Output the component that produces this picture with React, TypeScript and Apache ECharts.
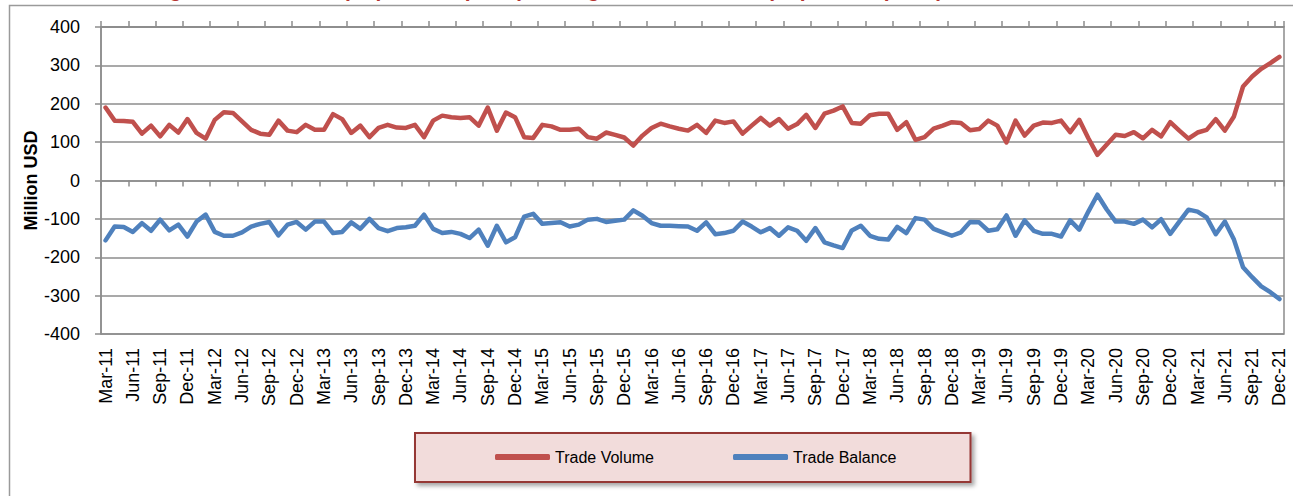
import React, { useEffect, useRef } from "react";
import * as echarts from "echarts";

const MONTHS = ["Jan", "Feb", "Mar", "Apr", "May", "Jun", "Jul", "Aug", "Sep", "Oct", "Nov", "Dec"];
const START_YEAR = 2011;
const START_MONTH = 2; // March
const MONTH_COUNT = 130;

const categories: string[] = [];
for (let k = 0; k < MONTH_COUNT; k++) {
  const m = (START_MONTH + k) % 12;
  const y = START_YEAR + Math.floor((START_MONTH + k) / 12);
  categories.push(`${MONTHS[m]}-${String(y % 100).padStart(2, "0")}`);
}

const tradeVolume = [
  190, 156, 155, 153, 122, 143, 115, 145, 125, 160,
  124, 109, 158, 178, 176, 154, 132, 122, 119, 156,
  130, 126, 145, 132, 132, 173, 160, 124, 143, 113,
  137, 145, 138, 137, 145, 113, 156, 169, 165, 163,
  165, 143, 190, 130, 177, 165, 113, 111, 145, 141,
  132, 132, 135, 113, 109, 125, 119, 112, 91, 117,
  137, 148, 141, 135, 130, 145, 124, 156, 150, 154,
  122, 143, 163, 143, 160, 135, 147, 171, 137, 174,
  182, 193, 150, 148, 170, 174, 174, 132, 152, 106,
  113, 135, 143, 152, 150, 131, 134, 156, 143, 99,
  156, 117, 143, 151, 150, 156, 126, 158, 110, 67,
  93, 119, 116, 126, 110, 132, 115, 152, 130, 109,
  125, 132, 160, 130, 167, 245, 271, 291, 306, 322,
];

const tradeBalance = [
  -156, -120, -121, -134, -111, -131, -102, -130, -115, -146,
  -107, -89, -134, -144, -144, -135, -120, -113, -108, -143,
  -115, -108, -128, -107, -107, -137, -134, -109, -126, -100,
  -124, -132, -124, -122, -118, -89, -126, -137, -134, -139,
  -150, -128, -170, -118, -161, -148, -94, -87, -113, -111,
  -109, -120, -115, -102, -100, -108, -105, -102, -78, -92,
  -111, -118, -118, -119, -120, -131, -109, -140, -137, -131,
  -107, -120, -135, -124, -144, -122, -131, -157, -124, -161,
  -169, -176, -130, -118, -144, -152, -154, -121, -137, -98,
  -102, -126, -135, -144, -135, -108, -109, -131, -127, -91,
  -144, -104, -131, -139, -139, -146, -104, -128, -81, -37,
  -75, -107, -107, -113, -102, -122, -101, -139, -107, -76,
  -81, -96, -140, -107, -154, -226, -252, -276, -291, -309,
];

const TITLE = "Foreign Trade Volume (Exports+Imports), Foreign Trade Balance (Exports-Imports)";
const AXIS_GRAY = "#8c8c8c";
const FONT = "'Liberation Sans', Arial, sans-serif";

export default function App() {
  const ref = useRef<HTMLDivElement>(null);

  useEffect(() => {
    if (!ref.current) return;
    const chart = echarts.init(ref.current, undefined, { renderer: "svg" });
    chart.setOption({
      animation: false,
      backgroundColor: "#ffffff",
      textStyle: { fontFamily: FONT },
      graphic: [
        {
          type: "rect",
          silent: true,
          z: -10,
          shape: { x: 9.5, y: 5.5, width: 1400, height: 600 },
          style: { fill: "none", stroke: "#9a9a9a", lineWidth: 1.5 },
        },
        {
          type: "text",
          silent: true,
          x: 118,
          y: 0,
          style: {
            text: TITLE,
            font: `bold 21px ${FONT}`,
            fill: "#b5322f",
            verticalAlign: "bottom",
          },
        },
      ],
      grid: {
        left: 101,
        top: 27,
        width: 1183,
        height: 307,
        containLabel: false,
        outerBoundsMode: "none",
        show: true,
        borderColor: AXIS_GRAY,
        borderWidth: 1.5,
        backgroundColor: "transparent",
      },
      legend: {
        left: 415,
        top: 433,
        orient: "horizontal",
        padding: [14, 74, 15, 80],
        itemGap: 79,
        itemWidth: 55,
        itemHeight: 6,
        icon: "roundRect",
        backgroundColor: "#f2dcdb",
        borderColor: "#953735",
        borderWidth: 2,
        borderRadius: 0,
        shadowBlur: 4,
        shadowOffsetX: 3,
        shadowOffsetY: 3,
        shadowColor: "rgba(0,0,0,0.35)",
        textStyle: { fontSize: 16, color: "#000", fontFamily: FONT, lineHeight: 20 },
        data: ["Trade Volume", "Trade Balance"],
      },
      xAxis: [
        {
          type: "category",
          data: categories,
          position: "bottom",
          boundaryGap: true,
          axisLine: { show: true, onZero: true, lineStyle: { color: AXIS_GRAY, width: 1.5 } },
          axisTick: { show: true, interval: 2, length: 6, inside: false, lineStyle: { color: AXIS_GRAY, width: 1.5 } },
          axisLabel: {
            interval: 2,
            rotate: 90,
            margin: 14,
            fontSize: 18,
            color: "#000",
            fontFamily: FONT,
          },
          splitLine: { show: false },
        },
        {
          type: "category",
          data: categories,
          position: "top",
          boundaryGap: true,
          axisLine: { show: true, onZero: true, lineStyle: { color: AXIS_GRAY, width: 1.5 } },
          axisTick: { show: true, interval: 2, length: 6, inside: false, lineStyle: { color: AXIS_GRAY, width: 1.5 } },
          axisLabel: { show: false },
          splitLine: { show: false },
        },
      ],
      yAxis: {
        type: "value",
        min: -400,
        max: 400,
        interval: 100,
        name: "Million USD",
        nameLocation: "middle",
        nameGap: 61,
        nameMoveOverlap: false,
        nameRotate: 90,
        nameTextStyle: { fontSize: 18, fontWeight: "bold", color: "#000", fontFamily: FONT },
        axisLine: { show: true, lineStyle: { color: AXIS_GRAY, width: 1.5 } },
        axisTick: { show: true, length: 6, inside: false, lineStyle: { color: AXIS_GRAY, width: 1.5 } },
        axisLabel: { fontSize: 18, color: "#000", margin: 21, fontFamily: FONT },
        splitLine: { show: true, lineStyle: { color: AXIS_GRAY, width: 1.5 } },
      },
      series: [
        {
          name: "Trade Volume",
          type: "line",
          xAxisIndex: 0,
          data: tradeVolume,
          symbol: "none",
          smooth: false,
          itemStyle: { color: "#c0504d" },
          lineStyle: { color: "#c0504d", width: 4.5, join: "round", cap: "round" },
        },
        {
          name: "Trade Balance",
          type: "line",
          xAxisIndex: 0,
          data: tradeBalance,
          symbol: "none",
          smooth: false,
          itemStyle: { color: "#4f81bd" },
          lineStyle: { color: "#4f81bd", width: 4.5, join: "round", cap: "round" },
        },
      ],
    });
    return () => chart.dispose();
  }, []);

  return (
    <div
      ref={ref}
      style={{ position: "absolute", left: 0, top: 0, width: 1293, height: 496 }}
    />
  );
}
